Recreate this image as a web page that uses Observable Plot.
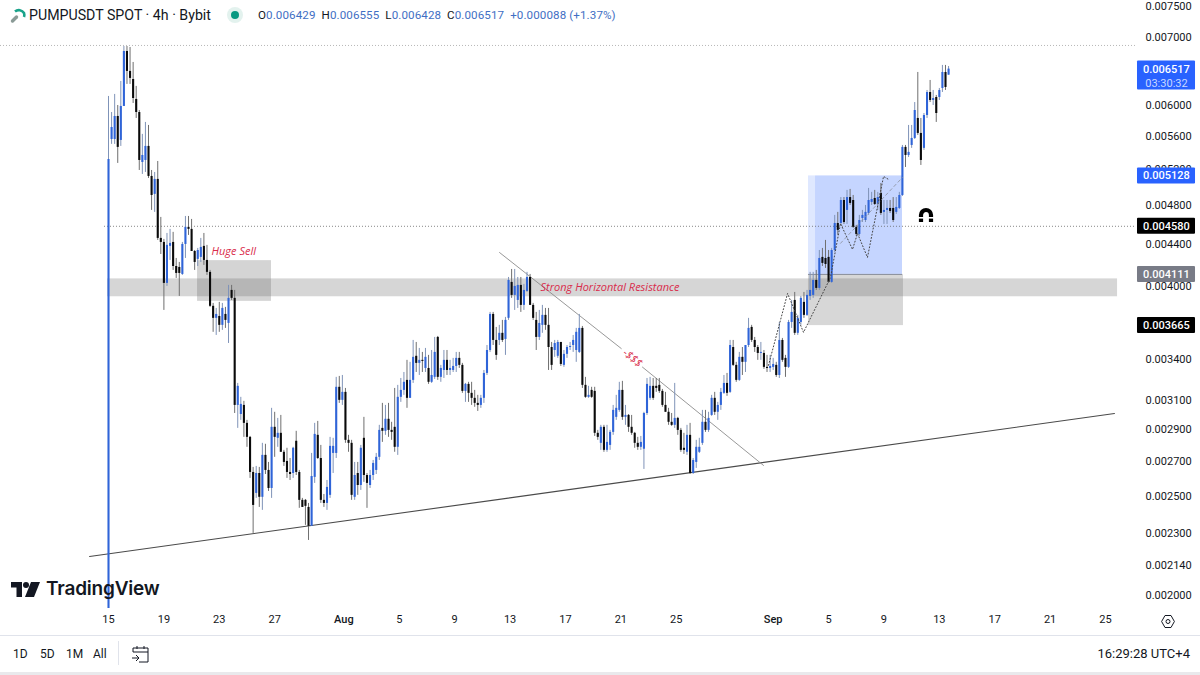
<!DOCTYPE html>
<html>
<head>
<meta charset="utf-8">
<script src="https://cdn.jsdelivr.net/npm/d3@7"></script>
<script src="https://cdn.jsdelivr.net/npm/@observablehq/plot@0.6"></script>
<style>
html,body{margin:0;padding:0;background:#fff}
#wrap{position:relative;width:1200px;height:675px;overflow:hidden;font-family:Roboto,sans-serif;color:#131722;background:#fff}
#wrap svg.plot{position:absolute;left:0;top:0}
.ov{position:absolute;white-space:nowrap}
.v{color:#3f6fc4}
</style>
</head>
<body>
<div id="wrap"></div>
<script>
// Prices in millionths of USDT
const priceUnit = 1e-6;
const opens = [1943,5565,5565,5860,5553,5993,6780,6483,6367,6088,5912,5285,5309,5479,5122,4920,5088,4457,4417,4029,4378,4417,4185,4176,4111,4397,4569,4548,4328,4252,4271,4378,4242,4130,3827,3725,3741,3667,3758,3683,3966,3896,3064,3002,3064,2943,2852,2636,2515,2630,2493,2739,2648,2543,2917,2846,2878,2758,2702,2636,2630,2827,2636,2476,2476,2437,2336,2607,2865,2720,2476,2459,2504,2751,2751,3191,3099,3155,2833,2814,2493,2630,2560,2846,2618,2560,2618,2648,2727,2910,2891,2970,2897,2917,2789,3120,3169,3241,3113,3241,3421,3367,3390,3329,3329,3227,3263,3569,3263,3314,3390,3314,3314,3344,3405,3352,3162,3212,3148,3113,3078,3064,3113,3292,3466,3758,3545,3545,3602,3553,3725,4038,3922,3878,4011,3835,3957,4083,3835,3708,3569,3667,3750,3667,3489,3466,3421,3529,3352,3436,3489,3505,3466,3451,3642,3205,3120,3169,3162,2878,2814,2917,2770,2801,2884,2983,3030,3169,2983,2996,2917,2878,2814,2789,2777,3009,3113,3198,3198,3205,3162,3064,3017,2950,2930,2976,2897,2783,2758,2865,2630,2696,2758,2814,2950,2897,2996,3113,3017,3064,3148,3219,3155,3489,3352,3241,3413,3375,3505,3650,3545,3489,3443,3443,3337,3329,3337,3352,3277,3545,3405,3337,3691,3878,3602,3691,3861,3750,3913,3922,4056,3984,4271,4261,4271,4038,4338,4609,4609,4853,4746,4885,4853,4569,4497,4661,4640,4714,4832,4875,4810,4931,4725,4746,4767,4767,4725,4767,4908,5467,5369,5491,5578,5834,5641,5455,5873,6184,6074,6115,6115,6240,6468,6429];
const highs = [6129,5912,6157,6006,6339,6856,6856,6841,6615,6269,5939,5629,5782,5743,5191,5168,5297,4672,4447,4507,4548,4518,4261,4223,4417,4682,4682,4651,4338,4358,4457,4507,4388,4148,3852,3809,3861,3852,3818,4011,4011,3966,3219,3120,3092,2963,2858,2666,2672,2666,2814,2808,2696,3044,3017,2976,2996,2770,2783,2720,2789,2891,2648,2487,2481,2459,2751,2943,2956,2801,2509,2589,2852,2846,3263,3270,3277,3183,2865,2833,2696,2696,2801,2983,2630,2648,2708,2751,2930,3078,3064,3078,2950,3183,3205,3255,3299,3390,3375,3545,3529,3482,3451,3482,3428,3466,3569,3577,3352,3466,3466,3390,3405,3451,3451,3367,3219,3227,3227,3169,3134,3134,3314,3505,3775,3775,3650,3667,3708,3733,4083,4157,4157,4083,4083,4020,4130,4111,3852,3775,3792,3835,3809,3809,3529,3545,3545,3529,3466,3505,3529,3585,3642,3758,3658,3263,3198,3191,3191,2897,2930,2930,2930,2897,3064,3134,3227,3234,3064,3002,2996,2884,2852,2858,3017,3255,3263,3255,3255,3255,3176,3155,3044,3009,3219,2983,2910,2878,2930,2943,2720,2833,2846,3030,3030,3017,3134,3155,3085,3183,3277,3292,3545,3545,3375,3451,3489,3505,3725,3667,3569,3505,3529,3466,3428,3428,3405,3375,3691,3561,3428,3708,3878,3948,3750,3913,3948,3966,4130,4130,4148,4338,4358,4437,4338,4358,4693,4725,4885,4885,4964,4975,4908,4589,4693,4746,4799,4986,4942,4964,4942,5042,4853,4853,4853,4885,4885,4942,5491,5491,5743,5743,6046,6468,5834,5899,6212,6353,6212,6143,6240,6571,6571,6555];
const lows = [1943,5504,5504,5274,5479,5993,6297,6297,6033,5834,5191,5145,5168,5099,4746,4725,4437,4299,3792,4002,4242,4148,4074,3913,4102,4261,4487,4328,4148,4185,4223,4195,4102,3818,3610,3585,3610,3626,3642,3521,3878,3009,2910,2963,2852,2789,2601,2299,2487,2437,2421,2624,2526,2487,2727,2789,2758,2672,2601,2589,2601,2618,2432,2437,2341,2263,2336,2572,2714,2459,2437,2421,2487,2630,2720,3078,3064,2814,2758,2476,2476,2504,2532,2578,2432,2543,2589,2624,2708,2820,2865,2852,2833,2758,2739,3085,3134,3044,3113,3219,3299,3277,3299,3299,3212,3219,3248,3241,3227,3255,3277,3277,3299,3299,3329,3148,3085,3085,3064,3051,3023,3044,3078,3277,3451,3505,3390,3505,3529,3428,3708,3896,3792,3809,3775,3792,3948,3835,3708,3466,3545,3602,3626,3314,3314,3413,3405,3344,3337,3405,3466,3451,3375,3443,3183,3113,3113,3113,2858,2833,2770,2758,2758,2770,2865,2963,3017,2963,2930,2884,2865,2783,2770,2770,2654,2996,3099,3099,3155,3148,3051,3017,2930,2923,2910,2865,2758,2745,2739,2624,2624,2660,2751,2801,2884,2884,2990,2996,2963,3030,3141,3127,3148,3344,3227,3234,3277,3299,3489,3529,3451,3390,3390,3322,3299,3299,3314,3263,3255,3375,3263,3329,3642,3585,3585,3667,3725,3741,3878,3896,3966,3966,4185,4167,4029,4029,4319,4487,4589,4599,4599,4799,4558,4477,4477,4619,4619,4693,4799,4799,4746,4693,4599,4599,4714,4619,4703,4756,4897,5226,5345,5455,5565,5616,5250,5430,5834,6046,6006,5782,6074,6184,6212,6428];
const closes = [5321,5717,5860,5467,5993,6780,6483,6382,6101,5912,5309,5369,5479,5122,4908,5088,4457,4417,4029,4388,4407,4185,4120,4120,4397,4569,4548,4328,4223,4338,4368,4242,4130,3827,3725,3758,3667,3809,3708,3896,3896,3064,3198,3071,2943,2852,2636,2448,2630,2493,2739,2648,2543,2917,2852,2878,2758,2696,2636,2624,2783,2636,2476,2437,2443,2336,2612,2871,2720,2476,2459,2549,2795,2795,3191,3099,3155,2833,2814,2504,2618,2560,2783,2618,2572,2618,2690,2727,2897,2891,2970,2897,2884,2789,3120,3169,3227,3113,3241,3413,3367,3390,3382,3413,3227,3277,3451,3263,3329,3390,3314,3329,3344,3405,3352,3162,3212,3148,3113,3078,3064,3113,3292,3466,3758,3545,3428,3602,3545,3708,4056,3922,4002,4011,3835,3966,4083,3835,3725,3569,3683,3750,3667,3489,3352,3521,3529,3359,3436,3489,3497,3545,3610,3642,3205,3120,3134,3120,2878,2852,2917,2770,2820,2884,3030,3044,3169,2983,2996,2917,2878,2814,2789,2820,3009,3212,3198,3113,3183,3162,3064,3017,2950,2930,2976,2897,2770,2770,2865,2630,2708,2789,2789,2950,2897,2976,3113,3017,3064,3155,3219,3148,3505,3352,3241,3413,3375,3505,3642,3545,3489,3443,3451,3337,3329,3344,3359,3277,3545,3390,3337,3691,3775,3602,3725,3896,3750,3922,3966,4056,3984,4261,4214,4204,4038,4338,4609,4538,4853,4619,4885,4821,4569,4497,4640,4693,4725,4853,4864,4810,4885,4714,4746,4767,4735,4640,4778,4908,5467,5369,5406,5578,5939,5641,5309,5873,6184,6074,6101,5899,6212,6468,6254,6517];

const dayTicks = ["2025-07-15","2025-07-19","2025-07-23","2025-07-27","2025-08-05","2025-08-09","2025-08-13","2025-08-17","2025-08-21","2025-08-25","2025-09-05","2025-09-09","2025-09-13","2025-09-17","2025-09-21","2025-09-25"];
const monthTicks = ["2025-08-01","2025-09-01"];
const priceTicks = [0.0075,0.007,0.006,0.0056,0.0052,0.0048,0.0044,0.004,0.0034,0.0031,0.0029,0.0027,0.0025,0.0023,0.00214,0.002];
const monthNames = ["Jan","Feb","Mar","Apr","May","Jun","Jul","Aug","Sep"];

// Annotation levels and spans (days after 15 July, price in millionths)
const resistanceBand = {from:-0.07,to:72.87,hi:4070,lo:3910};
const hugeSellBox = {from:6.43,to:11.77,hi:4240,lo:3870};
const blueBoxEdge = {from:50.55,to:51.06,hi:5128,lo:4111};
const blueBox = {from:51.06,to:57.34,hi:5128,lo:4111};
const grayBox = {from:50.55,to:57.41,hi:4111,lo:3665};
const supportLine = [[-1.37,2183],[72.65,3009]];
const fallingLineA = [[28.24,4318],[37.03,3481]];
const fallingLineB = [[38.56,3339],[47.3,2678]];
const projectionPath = [[47.66,3352],[49.04,3939],[50.19,3610],[52.14,4083],[52.86,4609],[53.73,4348],[54.09,4507],[54.81,4271],[55.97,5122],[56.33,5088]];
const projectionDash = [[52.86,4408],[57.34,5111]];
const notesLeft = [
  {text:"Huge Sell",day:7.44,price:4328},
  {text:"Strong Horizontal Resistance",day:31.2,price:3993}
];
const notesTilted = [{text:"-$$$",day:37.84,price:3406}];
const dottedLevels = [{price:6872,from:-7.8,stroke:"#a5a5a5"},{price:4580,from:-0.29,stroke:"#666"}];
const priceTags = [
  {price:6517,fill:"#2962ff",extra:21},
  {price:5128,fill:"#2962ff",extra:8},
  {price:4580,fill:"#000000",extra:8},
  {price:4111,fill:"#787b86",extra:8},
  {price:3665,fill:"#000000",extra:8}
];

const t0 = Date.UTC(2025,6,15);
const day = d => new Date(t0 + d*864e5);
const barDays = 4/18; // displayed spacing between candles
const bars = closes.map((c,i)=>({t:day(i*barDays),o:opens[i]*priceUnit,h:highs[i]*priceUnit,l:lows[i]*priceUnit,c:c*priceUnit,up:c>=opens[i]}));
const upBars = bars.filter(b=>b.up), downBars = bars.filter(b=>!b.up);
const UTC = s => new Date(s+"T00:00:00Z");

const box = (b,o) => Plot.rect([b],{x1:d=>day(d.from),x2:d=>day(d.to),y1:d=>d.lo*priceUnit,y2:d=>d.hi*priceUnit,...o});
const path = (pts,o) => Plot.line(pts,{x:d=>day(d[0]),y:d=>d[1]*priceUnit,...o});
const red = "#d92b4b";
const noteStyle = {x:d=>day(d.day),y:d=>d.price*priceUnit,text:"text",fill:red,fontSize:11,fontStyle:"italic",fontWeight:500,fontFamily:"Open Sans, sans-serif"};

const chart = Plot.plot({
  width:1200,height:675,marginLeft:0,marginRight:55,marginTop:0,marginBottom:63,
  style:{fontFamily:"Roboto, sans-serif",color:"#131722",background:"#fff",position:"absolute",left:0,top:0},
  x:{type:"utc",domain:[day(-7.8),day(78.86)],range:[0,1200]},
  y:{type:"log",domain:[0.002,0.0075],range:[595,6]},
  marks:[
    Plot.axisY({anchor:"right",ticks:priceTicks,tickFormat:d=>d.toFixed(6),tickSize:0,tickPadding:0,fontSize:11,label:null,textAnchor:"start",fill:"#131722"}),
    Plot.axisX(dayTicks.map(UTC),{tickFormat:d=>String(d.getUTCDate()),tickSize:0,tickPadding:3,fontSize:11,label:null,fill:"#131722"}),
    Plot.axisX(monthTicks.map(UTC),{tickFormat:d=>monthNames[d.getUTCMonth()],tickSize:0,tickPadding:3,fontSize:11,fontWeight:500,label:null,fill:"#131722"}),
    box(resistanceBand,{fill:"#787878",fillOpacity:0.3}),
    box(hugeSellBox,{fill:"#666",fillOpacity:0.28}),
    box(grayBox,{fill:"#666",fillOpacity:0.26}),
    box(blueBoxEdge,{fill:"#2962ff",fillOpacity:0.15}),
    box(blueBox,{fill:"#2962ff",fillOpacity:0.27}),
    Plot.ruleY([blueBox.lo*priceUnit],{x1:day(blueBox.from-0.51),x2:day(blueBox.to),stroke:"#8a8f9c",strokeWidth:1}),
    Plot.ruleY(dottedLevels.slice(0,1),{y:d=>d.price*priceUnit,x1:d=>day(d.from),x2:day(74.17),stroke:"#a5a5a5",strokeWidth:0.8,strokeDasharray:"1 2"}),
    Plot.ruleY(dottedLevels.slice(1),{y:d=>d.price*priceUnit,x1:d=>day(d.from),x2:day(74.17),stroke:"#666",strokeWidth:0.8,strokeDasharray:"1 2"}),
    path(supportLine,{stroke:"#4a4a4a",strokeWidth:1.1}),
    path(fallingLineA,{stroke:"#8c8c8c",strokeWidth:0.9}),
    path(fallingLineB,{stroke:"#8c8c8c",strokeWidth:0.9}),
    Plot.ruleX(upBars,{x:"t",y1:"l",y2:"h",stroke:"#7f93b8",strokeWidth:1}),
    Plot.ruleX(downBars,{x:"t",y1:"l",y2:"h",stroke:"#6f6f6f",strokeWidth:1}),
    Plot.ruleX(upBars,{x:"t",y1:"o",y2:"c",stroke:"#2f64d8",strokeWidth:2.1}),
    Plot.ruleX(downBars,{x:"t",y1:"o",y2:"c",stroke:"#0a0a0a",strokeWidth:2.1}),
    path(projectionPath,{stroke:"#444",strokeWidth:1,strokeDasharray:"1 2.2"}),
    path(projectionDash,{stroke:"#8a8f9c",strokeWidth:0.8,strokeDasharray:"3 3"}),
    Plot.text(notesLeft,{...noteStyle,textAnchor:"start"}),
    Plot.text(notesTilted,{...noteStyle,textAnchor:"middle",rotate:40}),
    ...priceTags.map(t=>Plot.rect([t],{x1:day(74.31),x2:day(78.5),y1:d=>d.price*priceUnit,y2:d=>d.price*priceUnit,insetTop:-8,insetBottom:-t.extra,fill:t.fill,rx:1})),
    Plot.text(priceTags,{x:day(76.4),y:d=>d.price*priceUnit,text:d=>(d.price*priceUnit).toFixed(6),fill:"#fff",fontSize:11,fontWeight:500}),
    Plot.text(priceTags.slice(0,1),{x:day(76.4),y:d=>d.price*priceUnit,dy:14,text:()=>"03:30:32",fill:"#c9d8ff",fontSize:11})
  ]
});
chart.classList.add("plot");
const wrap = document.getElementById("wrap");
wrap.appendChild(chart);

const overlay = `
<svg class="ov" style="left:10px;top:6px" width="18" height="18" viewBox="0 0 18 18"><path d="M5 5.5a6 6 0 0 1 9 1.5a6 6 0 0 1 0 4" fill="none" stroke="#1aa38a" stroke-width="2.6"/><path d="M2.5 15l4-4" stroke="#8a9a96" stroke-width="3.4" stroke-linecap="round"/></svg>
<div class="ov" style="left:29px;top:7px;font-size:14.2px;line-height:17px">PUMPUSDT SPOT · 4h · Bybit</div>
<svg class="ov" style="left:227px;top:7px" width="16" height="16"><circle cx="8" cy="8" r="8" fill="#e3f2ee"/><circle cx="8" cy="8" r="4" fill="#089981"/></svg>
<div class="ov" style="left:258px;top:8px;font-size:11.6px;line-height:15px;letter-spacing:.1px">O<span class="v">0.006429</span>&nbsp; H<span class="v">0.006555</span>&nbsp; L<span class="v">0.006428</span>&nbsp; C<span class="v">0.006517</span>&nbsp; <span class="v">+0.000088 (+1.37%)</span></div>
<svg class="ov" style="left:918px;top:207px" width="16" height="16" viewBox="0 0 16 16"><path d="M3 10V8a5 5 0 0 1 10 0v2" fill="none" stroke="#000" stroke-width="4.2"/><rect x="0.9" y="11.6" width="4.2" height="3.4" fill="#000"/><rect x="10.9" y="11.6" width="4.2" height="3.4" fill="#000"/></svg>
<svg class="ov" style="left:11px;top:582px" width="29" height="15" viewBox="0 0 29 15"><path d="M0 0h11v15H5.5V5.5H0z" fill="#131722"/><circle cx="15" cy="3" r="3" fill="#131722"/><path d="M20 0h9l-6 15h-9z" fill="#131722"/></svg>
<div class="ov" style="left:46px;top:577px;font-family:Inter,sans-serif;font-weight:600;font-size:19px;line-height:24px;letter-spacing:-.2px">TradingView</div>
<svg class="ov" style="left:1161px;top:614px" width="14" height="15" viewBox="0 0 14 15"><path d="M4 1.5h6l3.4 6-3.4 6H4l-3.4-6z" fill="none" stroke="#131722" stroke-width="1"/><circle cx="7" cy="7.5" r="2" fill="none" stroke="#131722" stroke-width="1"/></svg>
<div class="ov" style="left:0;top:635px;width:1200px;height:1px;background:#e0e3eb"></div>
<div class="ov" style="left:13px;top:646px;font-size:12px;line-height:16px">1D</div>
<div class="ov" style="left:40px;top:646px;font-size:12px;line-height:16px">5D</div>
<div class="ov" style="left:66px;top:646px;font-size:12px;line-height:16px">1M</div>
<div class="ov" style="left:93px;top:646px;font-size:12px;line-height:16px">All</div>
<div class="ov" style="left:118px;top:641px;width:1px;height:24px;background:#e0e3eb"></div>
<svg class="ov" style="left:131px;top:644px" width="19" height="19" viewBox="0 0 19 19"><path d="M2 8V4h15v14H8M2 8h15M6 2v3M13 2v3M1 14h7M5 11l3 3-3 3" fill="none" stroke="#131722" stroke-width="1"/></svg>
<div class="ov" style="right:10px;top:646px;font-size:13px;line-height:16px">16:29:28 UTC+4</div>
<div class="ov" style="left:0;top:672px;width:1200px;height:3px;background:#e9e9ec"></div>`;
wrap.insertAdjacentHTML("beforeend",overlay);
</script>
</body>
</html>
